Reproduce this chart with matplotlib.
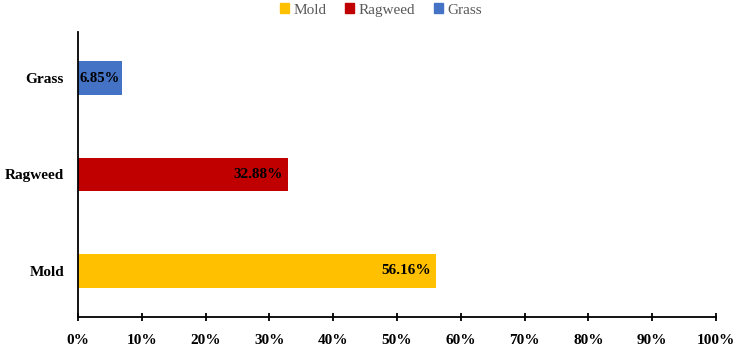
import matplotlib
matplotlib.use("Agg")
import matplotlib.pyplot as plt
from matplotlib.patches import Patch
from matplotlib.ticker import FuncFormatter

categories = ["Mold", "Ragweed", "Grass"]
values = [56.16, 32.88, 6.85]
colors = ["#FFC000", "#C00000", "#4472C4"]
xticks = [0, 10, 20, 30, 40, 50, 60, 70, 80, 90, 100]

plt.rcParams['font.family'] = ['Liberation Serif', 'DejaVu Serif']

fig = plt.figure(figsize=(7.51, 3.52), dpi=100)
ax = fig.add_axes([78/751, (352-317)/352, (716-78)/751, (317-32)/352])

y = list(range(len(categories)))
bars = ax.barh(y, values, height=0.35, color=colors)
for b, v in zip(bars, values):
    yc = b.get_y() + b.get_height()/2
    if v < 10:
        ax.text(0.2, yc, f"{v:.2f}%", ha='left', va='center', fontsize=10.5,
                fontweight='bold', color='black')
    else:
        ax.text(v - 0.8, yc, f"{v:.2f}%", ha='right', va='center', fontsize=11,
                fontweight='bold', color='black')

ax.set_xlim(0, 100)
ax.set_ylim(-0.48, 2.48)
ax.set_xticks(xticks)
ax.xaxis.set_major_formatter(FuncFormatter(lambda v, p: f"{int(v)}%"))
ax.set_yticks(y)
ax.set_yticklabels(categories)
for lab in ax.get_xticklabels() + ax.get_yticklabels():
    lab.set_fontweight('bold')
    lab.set_fontsize(11)
ax.tick_params(axis='x', direction='inout', length=6, width=1.3, pad=9)
ax.tick_params(axis='y', length=0, pad=10)
for s in ['top', 'right']:
    ax.spines[s].set_visible(False)
ax.spines['left'].set_linewidth(1.3)
ax.spines['bottom'].set_linewidth(1.3)

handles = [Patch(color=c, label=n) for c, n in zip(colors, categories)]
leg = fig.legend(handles=handles, loc='center', bbox_to_anchor=(381/751, 1 - 10/352),
                 ncol=3, frameon=False, fontsize=11, handlelength=0.6, handleheight=0.6,
                 handletextpad=0.3, columnspacing=1.2)
for t in leg.get_texts():
    t.set_color('#595959')

fig.savefig("out.png", dpi=100)
